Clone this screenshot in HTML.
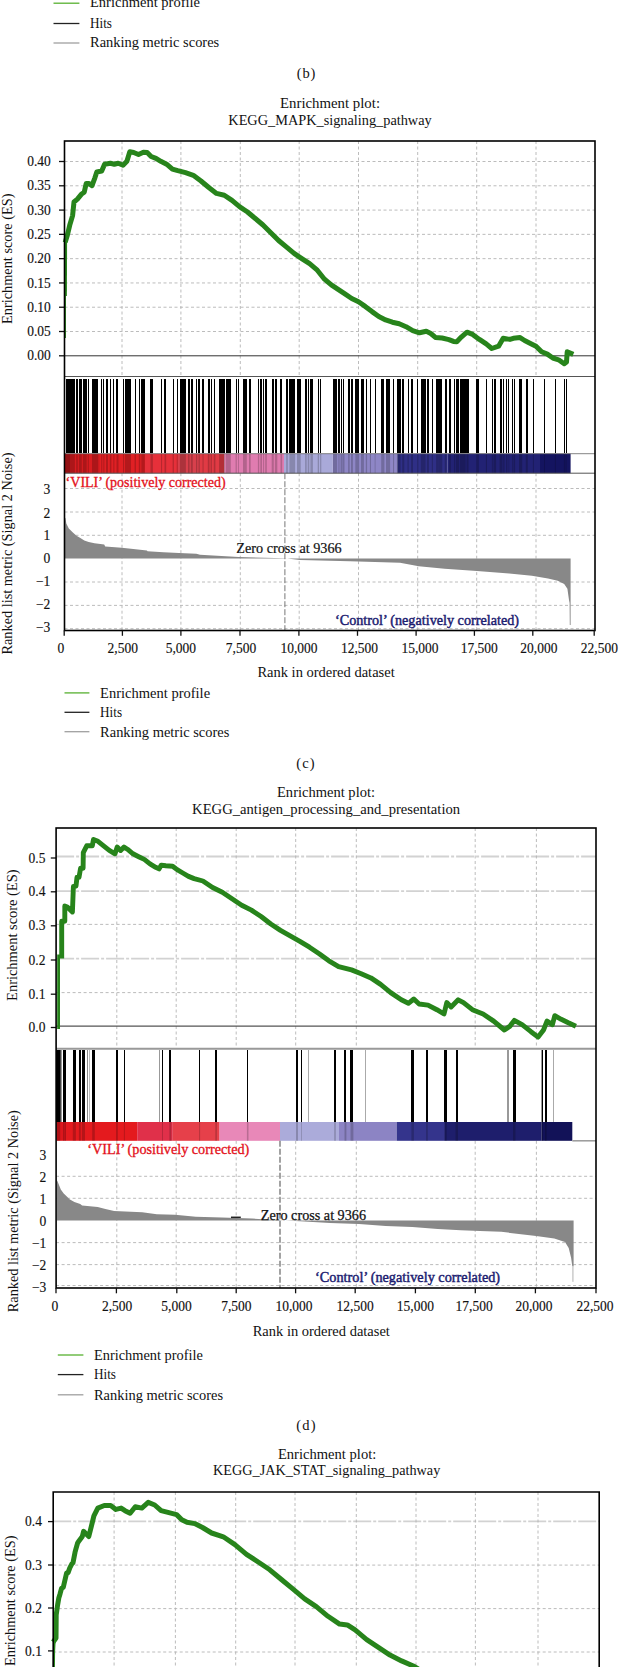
<!DOCTYPE html>
<html><head><meta charset="utf-8"><title>GSEA enrichment plots</title>
<style>
html,body{margin:0;padding:0;background:#fff;}
body{width:619px;height:1667px;overflow:hidden;}
svg{display:block;}
svg text{font-family:"Liberation Serif", serif;}
svg text.n{stroke:#111;stroke-width:0.15px;}
</style></head><body>
<svg width="619" height="1667" viewBox="0 0 619 1667">
<rect width="619" height="1667" fill="#fff"/>
<line x1="53.50" y1="3.20" x2="79.40" y2="3.20" stroke="#57b030" stroke-width="1.3"/>
<text x="90.0" y="7.2" font-size="14" text-anchor="start" fill="#111" textLength="110.0" lengthAdjust="spacingAndGlyphs">Enrichment profile</text>
<line x1="53.50" y1="23.50" x2="79.40" y2="23.50" stroke="#222" stroke-width="1.3"/>
<text x="90.0" y="27.5" font-size="14" text-anchor="start" fill="#111" textLength="22.0" lengthAdjust="spacingAndGlyphs">Hits</text>
<line x1="53.50" y1="43.00" x2="79.40" y2="43.00" stroke="#a0a0a0" stroke-width="1.3"/>
<text x="90.0" y="47.0" font-size="14" text-anchor="start" fill="#111" textLength="129.2" lengthAdjust="spacingAndGlyphs">Ranking metric scores</text>
<text x="306.5" y="78.3" font-size="14.5" text-anchor="middle" fill="#111" letter-spacing="0.8">(b)</text>
<text x="280.0" y="107.5" font-size="14" text-anchor="start" fill="#111" textLength="100.0" lengthAdjust="spacingAndGlyphs">Enrichment plot:</text>
<text x="228.3" y="125.0" font-size="14" text-anchor="start" fill="#111" textLength="203.4" lengthAdjust="spacingAndGlyphs">KEGG_MAPK_signaling_pathway</text>
<line x1="64.50" y1="331.51" x2="595.00" y2="331.51" stroke="#b4b4b4" stroke-width="0.9" stroke-dasharray="3,2.5"/>
<line x1="64.50" y1="307.23" x2="595.00" y2="307.23" stroke="#b4b4b4" stroke-width="0.9" stroke-dasharray="3,2.5"/>
<line x1="64.50" y1="282.94" x2="595.00" y2="282.94" stroke="#b4b4b4" stroke-width="0.9" stroke-dasharray="3,2.5"/>
<line x1="64.50" y1="258.65" x2="595.00" y2="258.65" stroke="#b4b4b4" stroke-width="0.9" stroke-dasharray="3,2.5"/>
<line x1="64.50" y1="234.36" x2="595.00" y2="234.36" stroke="#b4b4b4" stroke-width="0.9" stroke-dasharray="3,2.5"/>
<line x1="64.50" y1="210.08" x2="595.00" y2="210.08" stroke="#b4b4b4" stroke-width="0.9" stroke-dasharray="3,2.5"/>
<line x1="64.50" y1="185.79" x2="595.00" y2="185.79" stroke="#b4b4b4" stroke-width="0.9" stroke-dasharray="3,2.5"/>
<line x1="64.50" y1="161.50" x2="595.00" y2="161.50" stroke="#b4b4b4" stroke-width="0.9" stroke-dasharray="3,2.5"/>
<line x1="122.00" y1="141.00" x2="122.00" y2="376.50" stroke="#b4b4b4" stroke-width="0.9" stroke-dasharray="3,2.5"/>
<line x1="122.00" y1="473.20" x2="122.00" y2="630.50" stroke="#b4b4b4" stroke-width="0.9" stroke-dasharray="3,2.5"/>
<line x1="180.90" y1="141.00" x2="180.90" y2="376.50" stroke="#b4b4b4" stroke-width="0.9" stroke-dasharray="3,2.5"/>
<line x1="180.90" y1="473.20" x2="180.90" y2="630.50" stroke="#b4b4b4" stroke-width="0.9" stroke-dasharray="3,2.5"/>
<line x1="240.30" y1="141.00" x2="240.30" y2="376.50" stroke="#b4b4b4" stroke-width="0.9" stroke-dasharray="3,2.5"/>
<line x1="240.30" y1="473.20" x2="240.30" y2="630.50" stroke="#b4b4b4" stroke-width="0.9" stroke-dasharray="3,2.5"/>
<line x1="299.20" y1="141.00" x2="299.20" y2="376.50" stroke="#b4b4b4" stroke-width="0.9" stroke-dasharray="3,2.5"/>
<line x1="299.20" y1="473.20" x2="299.20" y2="630.50" stroke="#b4b4b4" stroke-width="0.9" stroke-dasharray="3,2.5"/>
<line x1="358.50" y1="141.00" x2="358.50" y2="376.50" stroke="#b4b4b4" stroke-width="0.9" stroke-dasharray="3,2.5"/>
<line x1="358.50" y1="473.20" x2="358.50" y2="630.50" stroke="#b4b4b4" stroke-width="0.9" stroke-dasharray="3,2.5"/>
<line x1="417.70" y1="141.00" x2="417.70" y2="376.50" stroke="#b4b4b4" stroke-width="0.9" stroke-dasharray="3,2.5"/>
<line x1="417.70" y1="473.20" x2="417.70" y2="630.50" stroke="#b4b4b4" stroke-width="0.9" stroke-dasharray="3,2.5"/>
<line x1="476.70" y1="141.00" x2="476.70" y2="376.50" stroke="#b4b4b4" stroke-width="0.9" stroke-dasharray="3,2.5"/>
<line x1="476.70" y1="473.20" x2="476.70" y2="630.50" stroke="#b4b4b4" stroke-width="0.9" stroke-dasharray="3,2.5"/>
<line x1="536.00" y1="141.00" x2="536.00" y2="376.50" stroke="#b4b4b4" stroke-width="0.9" stroke-dasharray="3,2.5"/>
<line x1="536.00" y1="473.20" x2="536.00" y2="630.50" stroke="#b4b4b4" stroke-width="0.9" stroke-dasharray="3,2.5"/>
<line x1="64.50" y1="488.50" x2="595.00" y2="488.50" stroke="#b4b4b4" stroke-width="0.9" stroke-dasharray="3,2.5"/>
<line x1="64.50" y1="512.00" x2="595.00" y2="512.00" stroke="#b4b4b4" stroke-width="0.9" stroke-dasharray="3,2.5"/>
<line x1="64.50" y1="535.30" x2="595.00" y2="535.30" stroke="#b4b4b4" stroke-width="0.9" stroke-dasharray="3,2.5"/>
<line x1="64.50" y1="582.00" x2="595.00" y2="582.00" stroke="#b4b4b4" stroke-width="0.9" stroke-dasharray="3,2.5"/>
<line x1="64.50" y1="605.40" x2="595.00" y2="605.40" stroke="#b4b4b4" stroke-width="0.9" stroke-dasharray="3,2.5"/>
<line x1="64.50" y1="628.70" x2="595.00" y2="628.70" stroke="#b4b4b4" stroke-width="0.9" stroke-dasharray="3,2.5"/>
<line x1="59.00" y1="355.80" x2="64.50" y2="355.80" stroke="#111" stroke-width="1.3"/>
<text class="n" x="27.2" y="360.4" font-size="14.3" text-anchor="start" fill="#111" textLength="23.6" lengthAdjust="spacingAndGlyphs">0.00</text>
<line x1="59.00" y1="331.51" x2="64.50" y2="331.51" stroke="#111" stroke-width="1.3"/>
<text class="n" x="27.2" y="336.1" font-size="14.3" text-anchor="start" fill="#111" textLength="23.6" lengthAdjust="spacingAndGlyphs">0.05</text>
<line x1="59.00" y1="307.23" x2="64.50" y2="307.23" stroke="#111" stroke-width="1.3"/>
<text class="n" x="27.2" y="311.8" font-size="14.3" text-anchor="start" fill="#111" textLength="23.6" lengthAdjust="spacingAndGlyphs">0.10</text>
<line x1="59.00" y1="282.94" x2="64.50" y2="282.94" stroke="#111" stroke-width="1.3"/>
<text class="n" x="27.2" y="287.5" font-size="14.3" text-anchor="start" fill="#111" textLength="23.6" lengthAdjust="spacingAndGlyphs">0.15</text>
<line x1="59.00" y1="258.65" x2="64.50" y2="258.65" stroke="#111" stroke-width="1.3"/>
<text class="n" x="27.2" y="263.2" font-size="14.3" text-anchor="start" fill="#111" textLength="23.6" lengthAdjust="spacingAndGlyphs">0.20</text>
<line x1="59.00" y1="234.36" x2="64.50" y2="234.36" stroke="#111" stroke-width="1.3"/>
<text class="n" x="27.2" y="239.0" font-size="14.3" text-anchor="start" fill="#111" textLength="23.6" lengthAdjust="spacingAndGlyphs">0.25</text>
<line x1="59.00" y1="210.08" x2="64.50" y2="210.08" stroke="#111" stroke-width="1.3"/>
<text class="n" x="27.2" y="214.7" font-size="14.3" text-anchor="start" fill="#111" textLength="23.6" lengthAdjust="spacingAndGlyphs">0.30</text>
<line x1="59.00" y1="185.79" x2="64.50" y2="185.79" stroke="#111" stroke-width="1.3"/>
<text class="n" x="27.2" y="190.4" font-size="14.3" text-anchor="start" fill="#111" textLength="23.6" lengthAdjust="spacingAndGlyphs">0.35</text>
<line x1="59.00" y1="161.50" x2="64.50" y2="161.50" stroke="#111" stroke-width="1.3"/>
<text class="n" x="27.2" y="166.1" font-size="14.3" text-anchor="start" fill="#111" textLength="23.6" lengthAdjust="spacingAndGlyphs">0.40</text>
<text transform="translate(12.2,258.8) rotate(-90)" x="-65.2" y="0" font-size="14" fill="#111" textLength="130.5" lengthAdjust="spacingAndGlyphs">Enrichment score (ES)</text>
<line x1="64.50" y1="355.80" x2="595.00" y2="355.80" stroke="#333" stroke-width="1"/>
<polyline points="65.2,338.0 65.2,296.0" fill="none" stroke="#27841b" stroke-width="1.5"/>
<polyline points="65.7,296.0 65.9,240.0" fill="none" stroke="#27841b" stroke-width="2.4"/>
<polyline points="65.9,240.0 67.4,235.0 69.7,225.3 72.6,215.6 74.0,202.0 77.4,199.1 81.3,194.3 84.2,192.3 86.2,183.6 89.1,183.6 92.0,185.6 94.9,177.8 96.8,172.0 101.7,171.0 104.6,164.2 110.4,163.3 114.3,164.2 118.2,163.3 123.0,165.2 126.9,161.3 129.8,151.8 133.7,152.5 138.5,154.5 143.4,152.3 147.2,152.6 151.1,156.5 156.0,158.4 160.8,161.3 166.6,164.2 172.4,169.1 177.8,170.7 185.5,172.7 193.3,175.3 201.0,181.0 208.8,187.5 216.5,193.4 224.3,195.2 232.0,200.4 239.8,206.9 247.5,212.0 255.3,218.5 263.0,225.0 270.8,232.7 278.6,240.5 286.3,246.9 294.1,253.4 301.8,258.6 309.6,263.7 317.3,270.2 324.5,279.2 331.3,284.9 338.1,289.4 344.9,293.9 351.7,298.5 358.5,301.8 365.2,306.4 372.0,311.6 378.8,316.5 385.6,319.9 392.4,322.2 399.2,323.8 406.0,326.7 412.7,330.6 419.5,332.8 426.3,331.3 430.8,333.5 435.4,337.4 442.1,338.0 448.9,339.6 453.5,341.4 456.8,341.7 461.3,337.1 467.0,332.2 472.6,334.4 479.4,339.4 486.2,343.9 491.8,348.5 498.6,346.2 503.2,338.3 509.9,339.4 513.3,338.3 520.1,337.6 524.6,340.5 531.4,343.9 536.0,346.2 541.6,351.8 547.3,354.1 552.9,358.0 558.6,359.8 564.2,363.8 566.5,362.0 567.2,351.8 571.0,353.4" fill="none" stroke="#27841b" stroke-width="5.0" stroke-linejoin="round" stroke-linecap="square"/>
<line x1="64.50" y1="376.50" x2="595.00" y2="376.50" stroke="#555" stroke-width="1"/>
<rect x="66" y="379.00" width="9" height="74.30" fill="#000" shape-rendering="crispEdges"/>
<rect x="76" y="379.00" width="2" height="74.30" fill="#000" shape-rendering="crispEdges"/>
<rect x="79" y="379.00" width="3" height="74.30" fill="#000" shape-rendering="crispEdges"/>
<rect x="83" y="379.00" width="4" height="74.30" fill="#000" shape-rendering="crispEdges"/>
<rect x="88" y="379.00" width="1" height="74.30" fill="#000" shape-rendering="crispEdges"/>
<rect x="92" y="379.00" width="6" height="74.30" fill="#000" shape-rendering="crispEdges"/>
<rect x="101" y="379.00" width="1" height="74.30" fill="#000" shape-rendering="crispEdges"/>
<rect x="103" y="379.00" width="1" height="74.30" fill="#000" shape-rendering="crispEdges"/>
<rect x="106" y="379.00" width="2" height="74.30" fill="#000" shape-rendering="crispEdges"/>
<rect x="110" y="379.00" width="1" height="74.30" fill="#000" shape-rendering="crispEdges"/>
<rect x="113" y="379.00" width="1" height="74.30" fill="#000" shape-rendering="crispEdges"/>
<rect x="116" y="379.00" width="2" height="74.30" fill="#000" shape-rendering="crispEdges"/>
<rect x="123" y="379.00" width="1" height="74.30" fill="#000" shape-rendering="crispEdges"/>
<rect x="125" y="379.00" width="6" height="74.30" fill="#000" shape-rendering="crispEdges"/>
<rect x="135" y="379.00" width="1" height="74.30" fill="#000" shape-rendering="crispEdges"/>
<rect x="139" y="379.00" width="1" height="74.30" fill="#000" shape-rendering="crispEdges"/>
<rect x="141" y="379.00" width="4" height="74.30" fill="#000" shape-rendering="crispEdges"/>
<rect x="150" y="379.00" width="3" height="74.30" fill="#000" shape-rendering="crispEdges"/>
<rect x="161" y="379.00" width="1" height="74.30" fill="#000" shape-rendering="crispEdges"/>
<rect x="164" y="379.00" width="2" height="74.30" fill="#000" shape-rendering="crispEdges"/>
<rect x="173" y="379.00" width="1" height="74.30" fill="#000" shape-rendering="crispEdges"/>
<rect x="177" y="379.00" width="1" height="74.30" fill="#000" shape-rendering="crispEdges"/>
<rect x="180" y="379.00" width="6" height="74.30" fill="#000" shape-rendering="crispEdges"/>
<rect x="188" y="379.00" width="2" height="74.30" fill="#000" shape-rendering="crispEdges"/>
<rect x="191" y="379.00" width="2" height="74.30" fill="#000" shape-rendering="crispEdges"/>
<rect x="196" y="379.00" width="1" height="74.30" fill="#000" shape-rendering="crispEdges"/>
<rect x="198" y="379.00" width="2" height="74.30" fill="#000" shape-rendering="crispEdges"/>
<rect x="202" y="379.00" width="2" height="74.30" fill="#000" shape-rendering="crispEdges"/>
<rect x="208" y="379.00" width="2" height="74.30" fill="#000" shape-rendering="crispEdges"/>
<rect x="211" y="379.00" width="1" height="74.30" fill="#000" shape-rendering="crispEdges"/>
<rect x="214" y="379.00" width="1" height="74.30" fill="#000" shape-rendering="crispEdges"/>
<rect x="219" y="379.00" width="6" height="74.30" fill="#000" shape-rendering="crispEdges"/>
<rect x="226" y="379.00" width="5" height="74.30" fill="#000" shape-rendering="crispEdges"/>
<rect x="236" y="379.00" width="1" height="74.30" fill="#000" shape-rendering="crispEdges"/>
<rect x="238" y="379.00" width="1" height="74.30" fill="#000" shape-rendering="crispEdges"/>
<rect x="243" y="379.00" width="4" height="74.30" fill="#000" shape-rendering="crispEdges"/>
<rect x="249" y="379.00" width="2" height="74.30" fill="#000" shape-rendering="crispEdges"/>
<rect x="258" y="379.00" width="1" height="74.30" fill="#000" shape-rendering="crispEdges"/>
<rect x="260" y="379.00" width="2" height="74.30" fill="#000" shape-rendering="crispEdges"/>
<rect x="263" y="379.00" width="1" height="74.30" fill="#000" shape-rendering="crispEdges"/>
<rect x="265" y="379.00" width="2" height="74.30" fill="#000" shape-rendering="crispEdges"/>
<rect x="272" y="379.00" width="2" height="74.30" fill="#000" shape-rendering="crispEdges"/>
<rect x="275" y="379.00" width="2" height="74.30" fill="#000" shape-rendering="crispEdges"/>
<rect x="280" y="379.00" width="2" height="74.30" fill="#000" shape-rendering="crispEdges"/>
<rect x="286" y="379.00" width="2" height="74.30" fill="#000" shape-rendering="crispEdges"/>
<rect x="289" y="379.00" width="6" height="74.30" fill="#000" shape-rendering="crispEdges"/>
<rect x="297" y="379.00" width="4" height="74.30" fill="#000" shape-rendering="crispEdges"/>
<rect x="305" y="379.00" width="2" height="74.30" fill="#000" shape-rendering="crispEdges"/>
<rect x="308" y="379.00" width="1" height="74.30" fill="#000" shape-rendering="crispEdges"/>
<rect x="310" y="379.00" width="3" height="74.30" fill="#000" shape-rendering="crispEdges"/>
<rect x="318" y="379.00" width="1" height="74.30" fill="#000" shape-rendering="crispEdges"/>
<rect x="320" y="379.00" width="1" height="74.30" fill="#000" shape-rendering="crispEdges"/>
<rect x="333" y="379.00" width="4" height="74.30" fill="#000" shape-rendering="crispEdges"/>
<rect x="338" y="379.00" width="2" height="74.30" fill="#000" shape-rendering="crispEdges"/>
<rect x="341" y="379.00" width="1" height="74.30" fill="#000" shape-rendering="crispEdges"/>
<rect x="343" y="379.00" width="1" height="74.30" fill="#000" shape-rendering="crispEdges"/>
<rect x="348" y="379.00" width="2" height="74.30" fill="#000" shape-rendering="crispEdges"/>
<rect x="351" y="379.00" width="2" height="74.30" fill="#000" shape-rendering="crispEdges"/>
<rect x="355" y="379.00" width="4" height="74.30" fill="#000" shape-rendering="crispEdges"/>
<rect x="361" y="379.00" width="3" height="74.30" fill="#000" shape-rendering="crispEdges"/>
<rect x="366" y="379.00" width="1" height="74.30" fill="#000" shape-rendering="crispEdges"/>
<rect x="370" y="379.00" width="1" height="74.30" fill="#000" shape-rendering="crispEdges"/>
<rect x="375" y="379.00" width="1" height="74.30" fill="#000" shape-rendering="crispEdges"/>
<rect x="381" y="379.00" width="3" height="74.30" fill="#000" shape-rendering="crispEdges"/>
<rect x="386" y="379.00" width="4" height="74.30" fill="#000" shape-rendering="crispEdges"/>
<rect x="393" y="379.00" width="1" height="74.30" fill="#000" shape-rendering="crispEdges"/>
<rect x="397" y="379.00" width="4" height="74.30" fill="#000" shape-rendering="crispEdges"/>
<rect x="402" y="379.00" width="2" height="74.30" fill="#000" shape-rendering="crispEdges"/>
<rect x="408" y="379.00" width="1" height="74.30" fill="#000" shape-rendering="crispEdges"/>
<rect x="411" y="379.00" width="2" height="74.30" fill="#000" shape-rendering="crispEdges"/>
<rect x="417" y="379.00" width="1" height="74.30" fill="#000" shape-rendering="crispEdges"/>
<rect x="421" y="379.00" width="5" height="74.30" fill="#000" shape-rendering="crispEdges"/>
<rect x="427" y="379.00" width="2" height="74.30" fill="#000" shape-rendering="crispEdges"/>
<rect x="432" y="379.00" width="1" height="74.30" fill="#000" shape-rendering="crispEdges"/>
<rect x="436" y="379.00" width="3" height="74.30" fill="#000" shape-rendering="crispEdges"/>
<rect x="439" y="379.00" width="3" height="74.30" fill="#000" shape-rendering="crispEdges"/>
<rect x="445" y="379.00" width="2" height="74.30" fill="#000" shape-rendering="crispEdges"/>
<rect x="449" y="379.00" width="2" height="74.30" fill="#000" shape-rendering="crispEdges"/>
<rect x="454" y="379.00" width="1" height="74.30" fill="#000" shape-rendering="crispEdges"/>
<rect x="456" y="379.00" width="3" height="74.30" fill="#000" shape-rendering="crispEdges"/>
<rect x="460" y="379.00" width="6" height="74.30" fill="#000" shape-rendering="crispEdges"/>
<rect x="466" y="379.00" width="3" height="74.30" fill="#000" shape-rendering="crispEdges"/>
<rect x="476" y="379.00" width="3" height="74.30" fill="#000" shape-rendering="crispEdges"/>
<rect x="486" y="379.00" width="1" height="74.30" fill="#000" shape-rendering="crispEdges"/>
<rect x="492" y="379.00" width="1" height="74.30" fill="#000" shape-rendering="crispEdges"/>
<rect x="494" y="379.00" width="2" height="74.30" fill="#000" shape-rendering="crispEdges"/>
<rect x="500" y="379.00" width="2" height="74.30" fill="#000" shape-rendering="crispEdges"/>
<rect x="503" y="379.00" width="1" height="74.30" fill="#000" shape-rendering="crispEdges"/>
<rect x="506" y="379.00" width="1" height="74.30" fill="#000" shape-rendering="crispEdges"/>
<rect x="508" y="379.00" width="1" height="74.30" fill="#000" shape-rendering="crispEdges"/>
<rect x="512" y="379.00" width="1" height="74.30" fill="#000" shape-rendering="crispEdges"/>
<rect x="514" y="379.00" width="1" height="74.30" fill="#000" shape-rendering="crispEdges"/>
<rect x="519" y="379.00" width="3" height="74.30" fill="#000" shape-rendering="crispEdges"/>
<rect x="526" y="379.00" width="2" height="74.30" fill="#000" shape-rendering="crispEdges"/>
<rect x="533" y="379.00" width="1" height="74.30" fill="#000" shape-rendering="crispEdges"/>
<rect x="544" y="379.00" width="1" height="74.30" fill="#000" shape-rendering="crispEdges"/>
<rect x="555" y="379.00" width="1" height="74.30" fill="#000" shape-rendering="crispEdges"/>
<rect x="564" y="379.00" width="1" height="74.30" fill="#000" shape-rendering="crispEdges"/>
<rect x="566" y="379.00" width="1" height="74.30" fill="#000" shape-rendering="crispEdges"/>
<rect x="64.50" y="453.70" width="5.50" height="19.50" fill="#b81418"/>
<rect x="70.00" y="453.70" width="30.00" height="19.50" fill="#d81c20"/>
<rect x="100.00" y="453.70" width="45.00" height="19.50" fill="#e02024"/>
<rect x="145.00" y="453.70" width="33.00" height="19.50" fill="#e6303a"/>
<rect x="178.00" y="453.70" width="22.00" height="19.50" fill="#d8404c"/>
<rect x="200.00" y="453.70" width="24.40" height="19.50" fill="#e03a44"/>
<rect x="224.40" y="453.70" width="59.60" height="19.50" fill="#e07cb0"/>
<rect x="284.00" y="453.70" width="48.70" height="19.50" fill="#a9a9d9"/>
<rect x="332.70" y="453.70" width="64.70" height="19.50" fill="#8e86c6"/>
<rect x="397.40" y="453.70" width="50.20" height="19.50" fill="#2f2f86"/>
<rect x="447.60" y="453.70" width="92.40" height="19.50" fill="#222274"/>
<rect x="540.00" y="453.70" width="30.60" height="19.50" fill="#141460"/>
<rect x="65.50" y="453.70" width="9.40" height="19.50" fill="#000" fill-opacity="0.2"/>
<rect x="76.20" y="453.70" width="1.60" height="19.50" fill="#000" fill-opacity="0.2"/>
<rect x="78.90" y="453.70" width="2.90" height="19.50" fill="#000" fill-opacity="0.2"/>
<rect x="82.90" y="453.70" width="3.80" height="19.50" fill="#000" fill-opacity="0.2"/>
<rect x="87.80" y="453.70" width="1.00" height="19.50" fill="#000" fill-opacity="0.2"/>
<rect x="92.00" y="453.70" width="6.30" height="19.50" fill="#000" fill-opacity="0.2"/>
<rect x="101.20" y="453.70" width="1.10" height="19.50" fill="#000" fill-opacity="0.2"/>
<rect x="103.30" y="453.70" width="1.10" height="19.50" fill="#000" fill-opacity="0.2"/>
<rect x="106.00" y="453.70" width="2.00" height="19.50" fill="#000" fill-opacity="0.2"/>
<rect x="109.80" y="453.70" width="1.60" height="19.50" fill="#000" fill-opacity="0.2"/>
<rect x="113.30" y="453.70" width="1.10" height="19.50" fill="#000" fill-opacity="0.2"/>
<rect x="116.50" y="453.70" width="2.00" height="19.50" fill="#000" fill-opacity="0.2"/>
<rect x="123.00" y="453.70" width="1.10" height="19.50" fill="#000" fill-opacity="0.2"/>
<rect x="125.00" y="453.70" width="6.00" height="19.50" fill="#000" fill-opacity="0.2"/>
<rect x="134.60" y="453.70" width="1.30" height="19.50" fill="#000" fill-opacity="0.2"/>
<rect x="138.80" y="453.70" width="1.50" height="19.50" fill="#000" fill-opacity="0.2"/>
<rect x="141.30" y="453.70" width="3.50" height="19.50" fill="#000" fill-opacity="0.2"/>
<rect x="150.50" y="453.70" width="2.40" height="19.50" fill="#000" fill-opacity="0.2"/>
<rect x="161.00" y="453.70" width="1.10" height="19.50" fill="#000" fill-opacity="0.2"/>
<rect x="164.50" y="453.70" width="1.70" height="19.50" fill="#000" fill-opacity="0.2"/>
<rect x="172.60" y="453.70" width="1.30" height="19.50" fill="#000" fill-opacity="0.2"/>
<rect x="176.70" y="453.70" width="1.10" height="19.50" fill="#000" fill-opacity="0.2"/>
<rect x="179.90" y="453.70" width="6.00" height="19.50" fill="#000" fill-opacity="0.2"/>
<rect x="188.00" y="453.70" width="1.60" height="19.50" fill="#000" fill-opacity="0.2"/>
<rect x="190.90" y="453.70" width="1.90" height="19.50" fill="#000" fill-opacity="0.2"/>
<rect x="196.00" y="453.70" width="1.20" height="19.50" fill="#000" fill-opacity="0.2"/>
<rect x="198.50" y="453.70" width="1.30" height="19.50" fill="#000" fill-opacity="0.2"/>
<rect x="202.50" y="453.70" width="1.10" height="19.50" fill="#000" fill-opacity="0.2"/>
<rect x="207.80" y="453.70" width="1.70" height="19.50" fill="#000" fill-opacity="0.2"/>
<rect x="210.60" y="453.70" width="1.30" height="19.50" fill="#000" fill-opacity="0.2"/>
<rect x="213.80" y="453.70" width="1.60" height="19.50" fill="#000" fill-opacity="0.2"/>
<rect x="219.10" y="453.70" width="6.00" height="19.50" fill="#000" fill-opacity="0.2"/>
<rect x="225.90" y="453.70" width="4.90" height="19.50" fill="#000" fill-opacity="0.2"/>
<rect x="235.60" y="453.70" width="1.20" height="19.50" fill="#000" fill-opacity="0.2"/>
<rect x="238.00" y="453.70" width="0.90" height="19.50" fill="#000" fill-opacity="0.2"/>
<rect x="243.00" y="453.70" width="3.80" height="19.50" fill="#000" fill-opacity="0.2"/>
<rect x="249.00" y="453.70" width="1.70" height="19.50" fill="#000" fill-opacity="0.2"/>
<rect x="257.90" y="453.70" width="1.30" height="19.50" fill="#000" fill-opacity="0.2"/>
<rect x="260.30" y="453.70" width="1.70" height="19.50" fill="#000" fill-opacity="0.2"/>
<rect x="263.10" y="453.70" width="1.00" height="19.50" fill="#000" fill-opacity="0.2"/>
<rect x="265.20" y="453.70" width="1.60" height="19.50" fill="#000" fill-opacity="0.2"/>
<rect x="271.70" y="453.70" width="2.10" height="19.50" fill="#000" fill-opacity="0.2"/>
<rect x="274.90" y="453.70" width="2.40" height="19.50" fill="#000" fill-opacity="0.2"/>
<rect x="280.50" y="453.70" width="1.70" height="19.50" fill="#000" fill-opacity="0.2"/>
<rect x="286.20" y="453.70" width="1.60" height="19.50" fill="#000" fill-opacity="0.2"/>
<rect x="289.40" y="453.70" width="5.70" height="19.50" fill="#000" fill-opacity="0.2"/>
<rect x="297.00" y="453.70" width="3.70" height="19.50" fill="#000" fill-opacity="0.2"/>
<rect x="305.10" y="453.70" width="1.60" height="19.50" fill="#000" fill-opacity="0.2"/>
<rect x="307.70" y="453.70" width="1.60" height="19.50" fill="#000" fill-opacity="0.2"/>
<rect x="310.40" y="453.70" width="2.50" height="19.50" fill="#000" fill-opacity="0.2"/>
<rect x="317.70" y="453.70" width="1.30" height="19.50" fill="#000" fill-opacity="0.2"/>
<rect x="320.10" y="453.70" width="1.20" height="19.50" fill="#000" fill-opacity="0.2"/>
<rect x="333.00" y="453.70" width="4.10" height="19.50" fill="#000" fill-opacity="0.2"/>
<rect x="338.40" y="453.70" width="1.10" height="19.50" fill="#000" fill-opacity="0.2"/>
<rect x="340.60" y="453.70" width="1.80" height="19.50" fill="#000" fill-opacity="0.2"/>
<rect x="342.70" y="453.70" width="1.80" height="19.50" fill="#000" fill-opacity="0.2"/>
<rect x="348.10" y="453.70" width="1.60" height="19.50" fill="#000" fill-opacity="0.2"/>
<rect x="351.00" y="453.70" width="1.90" height="19.50" fill="#000" fill-opacity="0.2"/>
<rect x="355.30" y="453.70" width="3.80" height="19.50" fill="#000" fill-opacity="0.2"/>
<rect x="361.00" y="453.70" width="2.90" height="19.50" fill="#000" fill-opacity="0.2"/>
<rect x="365.80" y="453.70" width="1.30" height="19.50" fill="#000" fill-opacity="0.2"/>
<rect x="369.90" y="453.70" width="1.10" height="19.50" fill="#000" fill-opacity="0.2"/>
<rect x="374.70" y="453.70" width="0.80" height="19.50" fill="#000" fill-opacity="0.2"/>
<rect x="381.20" y="453.70" width="3.20" height="19.50" fill="#000" fill-opacity="0.2"/>
<rect x="386.00" y="453.70" width="4.10" height="19.50" fill="#000" fill-opacity="0.2"/>
<rect x="393.00" y="453.70" width="1.10" height="19.50" fill="#000" fill-opacity="0.2"/>
<rect x="396.90" y="453.70" width="3.70" height="19.50" fill="#000" fill-opacity="0.2"/>
<rect x="402.20" y="453.70" width="2.10" height="19.50" fill="#000" fill-opacity="0.2"/>
<rect x="407.50" y="453.70" width="1.20" height="19.50" fill="#000" fill-opacity="0.2"/>
<rect x="411.10" y="453.70" width="1.90" height="19.50" fill="#000" fill-opacity="0.2"/>
<rect x="417.20" y="453.70" width="1.20" height="19.50" fill="#000" fill-opacity="0.2"/>
<rect x="420.80" y="453.70" width="4.80" height="19.50" fill="#000" fill-opacity="0.2"/>
<rect x="426.90" y="453.70" width="2.00" height="19.50" fill="#000" fill-opacity="0.2"/>
<rect x="431.80" y="453.70" width="1.10" height="19.50" fill="#000" fill-opacity="0.2"/>
<rect x="436.10" y="453.70" width="2.80" height="19.50" fill="#000" fill-opacity="0.2"/>
<rect x="439.00" y="453.70" width="3.30" height="19.50" fill="#000" fill-opacity="0.2"/>
<rect x="444.70" y="453.70" width="1.90" height="19.50" fill="#000" fill-opacity="0.2"/>
<rect x="449.20" y="453.70" width="1.60" height="19.50" fill="#000" fill-opacity="0.2"/>
<rect x="454.10" y="453.70" width="1.10" height="19.50" fill="#000" fill-opacity="0.2"/>
<rect x="456.00" y="453.70" width="3.20" height="19.50" fill="#000" fill-opacity="0.2"/>
<rect x="460.00" y="453.70" width="5.70" height="19.50" fill="#000" fill-opacity="0.2"/>
<rect x="466.50" y="453.70" width="2.10" height="19.50" fill="#000" fill-opacity="0.2"/>
<rect x="476.20" y="453.70" width="2.70" height="19.50" fill="#000" fill-opacity="0.2"/>
<rect x="485.90" y="453.70" width="1.10" height="19.50" fill="#000" fill-opacity="0.2"/>
<rect x="491.90" y="453.70" width="0.90" height="19.50" fill="#000" fill-opacity="0.2"/>
<rect x="493.50" y="453.70" width="2.60" height="19.50" fill="#000" fill-opacity="0.2"/>
<rect x="499.60" y="453.70" width="2.90" height="19.50" fill="#000" fill-opacity="0.2"/>
<rect x="503.20" y="453.70" width="1.30" height="19.50" fill="#000" fill-opacity="0.2"/>
<rect x="506.10" y="453.70" width="1.30" height="19.50" fill="#000" fill-opacity="0.2"/>
<rect x="508.50" y="453.70" width="0.80" height="19.50" fill="#000" fill-opacity="0.2"/>
<rect x="512.20" y="453.70" width="0.80" height="19.50" fill="#000" fill-opacity="0.2"/>
<rect x="513.50" y="453.70" width="1.60" height="19.50" fill="#000" fill-opacity="0.2"/>
<rect x="519.00" y="453.70" width="3.20" height="19.50" fill="#000" fill-opacity="0.2"/>
<rect x="525.80" y="453.70" width="2.00" height="19.50" fill="#000" fill-opacity="0.2"/>
<rect x="532.90" y="453.70" width="1.00" height="19.50" fill="#000" fill-opacity="0.2"/>
<rect x="544.20" y="453.70" width="0.80" height="19.50" fill="#000" fill-opacity="0.2"/>
<rect x="554.90" y="453.70" width="0.80" height="19.50" fill="#000" fill-opacity="0.2"/>
<rect x="563.90" y="453.70" width="0.80" height="19.50" fill="#000" fill-opacity="0.2"/>
<rect x="565.60" y="453.70" width="0.90" height="19.50" fill="#000" fill-opacity="0.2"/>
<line x1="64.50" y1="453.70" x2="595.00" y2="453.70" stroke="#666" stroke-width="0.8"/>
<line x1="64.50" y1="473.20" x2="595.00" y2="473.20" stroke="#555" stroke-width="1"/>
<polygon points="64.8,558.4 64.8,517.6 65.5,518.3 66.3,523.6 68.8,528.4 72.6,532.3 76.5,535.7 80.4,538.1 84.3,540.4 88.7,542.0 94.5,543.2 104.2,544.5 105.2,546.5 121.7,547.8 133.3,549.0 146.9,550.4 147.5,551.2 163.4,552.3 178.9,552.9 196.3,553.7 200.0,554.7 238.8,557.0 284.9,558.3 300.0,559.9 350.0,561.2 400.0,562.8 418.8,566.2 444.6,568.7 476.9,571.0 509.2,573.6 531.9,575.8 548.0,578.4 557.7,580.7 564.2,583.9 567.4,588.8 569.0,600.0 569.6,603.0 569.8,625.0 570.6,625.0 570.6,558.4" fill="#888888"/>
<line x1="284.90" y1="473.20" x2="284.90" y2="630.50" stroke="#666" stroke-width="0.9" stroke-dasharray="6,2"/>
<text class="n" x="43.5" y="494.1" font-size="14.3" text-anchor="start" fill="#111" textLength="6.8" lengthAdjust="spacingAndGlyphs">3</text>
<text class="n" x="43.5" y="517.6" font-size="14.3" text-anchor="start" fill="#111" textLength="6.8" lengthAdjust="spacingAndGlyphs">2</text>
<text class="n" x="43.5" y="540.3" font-size="14.3" text-anchor="start" fill="#111" textLength="6.8" lengthAdjust="spacingAndGlyphs">1</text>
<text class="n" x="43.5" y="562.9" font-size="14.3" text-anchor="start" fill="#111" textLength="6.8" lengthAdjust="spacingAndGlyphs">0</text>
<text class="n" x="35.8" y="586.1" font-size="14.3" text-anchor="start" fill="#111" textLength="14.4" lengthAdjust="spacingAndGlyphs">−1</text>
<text class="n" x="35.8" y="609.4" font-size="14.3" text-anchor="start" fill="#111" textLength="14.4" lengthAdjust="spacingAndGlyphs">−2</text>
<text class="n" x="35.8" y="632.2" font-size="14.3" text-anchor="start" fill="#111" textLength="14.4" lengthAdjust="spacingAndGlyphs">−3</text>
<text transform="translate(12.4,553.5) rotate(-90)" x="-101.0" y="0" font-size="14" fill="#111" textLength="202.0" lengthAdjust="spacingAndGlyphs">Ranked list metric (Signal 2 Noise)</text>
<text x="65.6" y="486.5" font-size="14" text-anchor="start" fill="#e4101a" textLength="160.0" lengthAdjust="spacingAndGlyphs" stroke="#e4101a" stroke-width="0.3">‘VILI’ (positively corrected)</text>
<text x="236.3" y="553.1" font-size="14" text-anchor="start" fill="#111" textLength="105.4" lengthAdjust="spacingAndGlyphs" stroke="#111" stroke-width="0.2">Zero cross at 9366</text>
<text x="335.0" y="625.3" font-size="14" text-anchor="start" fill="#1c1c70" textLength="184.0" lengthAdjust="spacingAndGlyphs" stroke="#1c1c70" stroke-width="0.45">‘Control’ (negatively correlated)</text>
<rect x="64.5" y="141" width="530.5" height="489.5" fill="none" stroke="#000" stroke-width="1.6"/>
<line x1="64.20" y1="630.50" x2="64.20" y2="635.80" stroke="#111" stroke-width="1.3"/>
<text class="n" x="57.5" y="653.2" font-size="14.3" text-anchor="start" fill="#111" textLength="6.8" lengthAdjust="spacingAndGlyphs">0</text>
<line x1="122.40" y1="630.50" x2="122.40" y2="635.80" stroke="#111" stroke-width="1.3"/>
<text class="n" x="107.5" y="653.2" font-size="14.3" text-anchor="start" fill="#111" textLength="30.4" lengthAdjust="spacingAndGlyphs">2,500</text>
<line x1="180.90" y1="630.50" x2="180.90" y2="635.80" stroke="#111" stroke-width="1.3"/>
<text class="n" x="165.7" y="653.2" font-size="14.3" text-anchor="start" fill="#111" textLength="30.4" lengthAdjust="spacingAndGlyphs">5,000</text>
<line x1="240.00" y1="630.50" x2="240.00" y2="635.80" stroke="#111" stroke-width="1.3"/>
<text class="n" x="225.8" y="653.2" font-size="14.3" text-anchor="start" fill="#111" textLength="30.4" lengthAdjust="spacingAndGlyphs">7,500</text>
<line x1="298.90" y1="630.50" x2="298.90" y2="635.80" stroke="#111" stroke-width="1.3"/>
<text class="n" x="280.4" y="653.2" font-size="14.3" text-anchor="start" fill="#111" textLength="37.1" lengthAdjust="spacingAndGlyphs">10,000</text>
<line x1="357.50" y1="630.50" x2="357.50" y2="635.80" stroke="#111" stroke-width="1.3"/>
<text class="n" x="340.9" y="653.2" font-size="14.3" text-anchor="start" fill="#111" textLength="37.1" lengthAdjust="spacingAndGlyphs">12,500</text>
<line x1="416.10" y1="630.50" x2="416.10" y2="635.80" stroke="#111" stroke-width="1.3"/>
<text class="n" x="401.4" y="653.2" font-size="14.3" text-anchor="start" fill="#111" textLength="37.1" lengthAdjust="spacingAndGlyphs">15,000</text>
<line x1="474.40" y1="630.50" x2="474.40" y2="635.80" stroke="#111" stroke-width="1.3"/>
<text class="n" x="460.7" y="653.2" font-size="14.3" text-anchor="start" fill="#111" textLength="37.1" lengthAdjust="spacingAndGlyphs">17,500</text>
<line x1="532.80" y1="630.50" x2="532.80" y2="635.80" stroke="#111" stroke-width="1.3"/>
<text class="n" x="520.3" y="653.2" font-size="14.3" text-anchor="start" fill="#111" textLength="37.1" lengthAdjust="spacingAndGlyphs">20,000</text>
<line x1="594.20" y1="630.50" x2="594.20" y2="635.80" stroke="#111" stroke-width="1.3"/>
<text class="n" x="580.8" y="653.2" font-size="14.3" text-anchor="start" fill="#111" textLength="37.1" lengthAdjust="spacingAndGlyphs">22,500</text>
<text x="257.4" y="677.4" font-size="14" text-anchor="start" fill="#111" textLength="137.3" lengthAdjust="spacingAndGlyphs">Rank in ordered dataset</text>
<line x1="64.50" y1="692.90" x2="89.40" y2="692.90" stroke="#57b030" stroke-width="1.3"/>
<text x="100.1" y="697.7" font-size="14" text-anchor="start" fill="#111" textLength="110.0" lengthAdjust="spacingAndGlyphs">Enrichment profile</text>
<line x1="64.50" y1="712.30" x2="89.40" y2="712.30" stroke="#222" stroke-width="1.3"/>
<text x="100.1" y="717.1" font-size="14" text-anchor="start" fill="#111" textLength="22.0" lengthAdjust="spacingAndGlyphs">Hits</text>
<line x1="64.50" y1="731.70" x2="89.40" y2="731.70" stroke="#a0a0a0" stroke-width="1.3"/>
<text x="100.1" y="736.5" font-size="14" text-anchor="start" fill="#111" textLength="129.2" lengthAdjust="spacingAndGlyphs">Ranking metric scores</text>
<text x="306.0" y="767.6" font-size="14.5" text-anchor="middle" fill="#111" letter-spacing="1.2">(c)</text>
<text x="277.0" y="797.4" font-size="14" text-anchor="start" fill="#111" textLength="98.0" lengthAdjust="spacingAndGlyphs">Enrichment plot:</text>
<text x="192.1" y="813.8" font-size="14" text-anchor="start" fill="#111" textLength="268.0" lengthAdjust="spacingAndGlyphs">KEGG_antigen_processing_and_presentation</text>
<line x1="56.10" y1="856.50" x2="596.00" y2="856.50" stroke="#d2d2d2" stroke-width="1.8" stroke-dasharray="18,2,3,2"/>
<line x1="56.10" y1="891.20" x2="596.00" y2="891.20" stroke="#d2d2d2" stroke-width="1.8" stroke-dasharray="18,2,3,2"/>
<line x1="56.10" y1="958.70" x2="596.00" y2="958.70" stroke="#d2d2d2" stroke-width="1.8" stroke-dasharray="18,2,3,2"/>
<line x1="56.10" y1="924.40" x2="596.00" y2="924.40" stroke="#b4b4b4" stroke-width="0.9" stroke-dasharray="3,2.5"/>
<line x1="56.10" y1="992.60" x2="596.00" y2="992.60" stroke="#b4b4b4" stroke-width="0.9" stroke-dasharray="3,2.5"/>
<line x1="116.80" y1="828.00" x2="116.80" y2="1048.80" stroke="#b4b4b4" stroke-width="0.9" stroke-dasharray="3,2.5"/>
<line x1="116.80" y1="1140.80" x2="116.80" y2="1288.00" stroke="#b4b4b4" stroke-width="0.9" stroke-dasharray="3,2.5"/>
<line x1="176.20" y1="828.00" x2="176.20" y2="1048.80" stroke="#b4b4b4" stroke-width="0.9" stroke-dasharray="3,2.5"/>
<line x1="176.20" y1="1140.80" x2="176.20" y2="1288.00" stroke="#b4b4b4" stroke-width="0.9" stroke-dasharray="3,2.5"/>
<line x1="236.20" y1="828.00" x2="236.20" y2="1048.80" stroke="#b4b4b4" stroke-width="0.9" stroke-dasharray="3,2.5"/>
<line x1="236.20" y1="1140.80" x2="236.20" y2="1288.00" stroke="#b4b4b4" stroke-width="0.9" stroke-dasharray="3,2.5"/>
<line x1="295.70" y1="828.00" x2="295.70" y2="1048.80" stroke="#b4b4b4" stroke-width="0.9" stroke-dasharray="3,2.5"/>
<line x1="295.70" y1="1140.80" x2="295.70" y2="1288.00" stroke="#b4b4b4" stroke-width="0.9" stroke-dasharray="3,2.5"/>
<line x1="356.30" y1="828.00" x2="356.30" y2="1048.80" stroke="#b4b4b4" stroke-width="0.9" stroke-dasharray="3,2.5"/>
<line x1="356.30" y1="1140.80" x2="356.30" y2="1288.00" stroke="#b4b4b4" stroke-width="0.9" stroke-dasharray="3,2.5"/>
<line x1="475.20" y1="828.00" x2="475.20" y2="1048.80" stroke="#b4b4b4" stroke-width="0.9" stroke-dasharray="3,2.5"/>
<line x1="475.20" y1="1140.80" x2="475.20" y2="1288.00" stroke="#b4b4b4" stroke-width="0.9" stroke-dasharray="3,2.5"/>
<line x1="536.40" y1="828.00" x2="536.40" y2="1048.80" stroke="#b4b4b4" stroke-width="0.9" stroke-dasharray="3,2.5"/>
<line x1="536.40" y1="1140.80" x2="536.40" y2="1288.00" stroke="#b4b4b4" stroke-width="0.9" stroke-dasharray="3,2.5"/>
<line x1="56.10" y1="1176.30" x2="596.00" y2="1176.30" stroke="#b4b4b4" stroke-width="0.9" stroke-dasharray="3,2.5"/>
<line x1="56.10" y1="1198.30" x2="596.00" y2="1198.30" stroke="#b4b4b4" stroke-width="0.9" stroke-dasharray="3,2.5"/>
<line x1="56.10" y1="1242.60" x2="596.00" y2="1242.60" stroke="#b4b4b4" stroke-width="0.9" stroke-dasharray="3,2.5"/>
<line x1="56.10" y1="1264.60" x2="596.00" y2="1264.60" stroke="#b4b4b4" stroke-width="0.9" stroke-dasharray="3,2.5"/>
<line x1="56.10" y1="1285.50" x2="596.00" y2="1285.50" stroke="#b4b4b4" stroke-width="0.9" stroke-dasharray="3,2.5"/>
<line x1="50.80" y1="858.00" x2="56.10" y2="858.00" stroke="#111" stroke-width="1.3"/>
<text class="n" x="28.6" y="862.6" font-size="14.3" text-anchor="start" fill="#111" textLength="16.9" lengthAdjust="spacingAndGlyphs">0.5</text>
<line x1="50.80" y1="891.80" x2="56.10" y2="891.80" stroke="#111" stroke-width="1.3"/>
<text class="n" x="28.6" y="896.4" font-size="14.3" text-anchor="start" fill="#111" textLength="16.9" lengthAdjust="spacingAndGlyphs">0.4</text>
<line x1="50.80" y1="925.80" x2="56.10" y2="925.80" stroke="#111" stroke-width="1.3"/>
<text class="n" x="28.6" y="930.4" font-size="14.3" text-anchor="start" fill="#111" textLength="16.9" lengthAdjust="spacingAndGlyphs">0.3</text>
<line x1="50.80" y1="960.00" x2="56.10" y2="960.00" stroke="#111" stroke-width="1.3"/>
<text class="n" x="28.6" y="964.6" font-size="14.3" text-anchor="start" fill="#111" textLength="16.9" lengthAdjust="spacingAndGlyphs">0.2</text>
<line x1="50.80" y1="994.20" x2="56.10" y2="994.20" stroke="#111" stroke-width="1.3"/>
<text class="n" x="28.6" y="998.8" font-size="14.3" text-anchor="start" fill="#111" textLength="16.9" lengthAdjust="spacingAndGlyphs">0.1</text>
<line x1="50.80" y1="1027.50" x2="56.10" y2="1027.50" stroke="#111" stroke-width="1.3"/>
<text class="n" x="28.6" y="1032.1" font-size="14.3" text-anchor="start" fill="#111" textLength="16.9" lengthAdjust="spacingAndGlyphs">0.0</text>
<text transform="translate(16.8,935.2) rotate(-90)" x="-65.7" y="0" font-size="14" fill="#111" textLength="131.4" lengthAdjust="spacingAndGlyphs">Enrichment score (ES)</text>
<line x1="56.10" y1="1026.10" x2="596.00" y2="1026.10" stroke="#555" stroke-width="1.4"/>
<polyline points="58.6,1029.0 58.6,956.0 61.7,956.0" fill="none" stroke="#27841b" stroke-width="2.8" stroke-linejoin="miter"/>
<polyline points="61.7,956.0 61.7,921.2 64.8,921.2 64.8,906.0 67.3,907.0 72.4,912.0 73.4,886.5 76.0,886.0 77.0,877.3 79.0,877.3 80.6,868.2 83.1,868.2 83.3,852.6 86.7,845.8 92.3,845.8 93.5,839.5 98.0,841.3 103.6,845.8 109.3,850.4 115.0,853.8 117.2,847.0 120.6,850.4 124.0,847.0 127.4,849.2 133.0,853.8 138.7,856.7 144.3,859.4 150.0,863.9 155.7,867.3 159.0,868.9 161.3,865.1 165.8,865.7 172.6,866.2 177.1,869.6 182.8,873.0 188.5,876.4 194.1,878.6 202.9,881.0 212.6,887.5 222.3,892.3 232.0,898.8 241.7,905.2 251.4,910.1 261.1,916.5 270.8,924.0 280.5,930.4 290.2,935.9 299.9,941.4 309.5,947.2 319.2,953.7 328.9,960.8 338.6,966.6 351.5,969.9 361.2,973.7 370.9,977.9 380.6,984.4 390.7,992.6 401.3,999.8 408.4,1003.3 413.8,999.0 419.1,1004.0 428.0,1005.1 436.9,1009.7 444.0,1014.0 446.8,1002.6 451.1,1006.9 458.2,999.8 463.5,1002.6 472.4,1009.7 483.1,1014.0 493.7,1021.1 504.4,1030.0 509.7,1026.4 514.3,1020.4 522.1,1024.6 531.0,1031.7 538.1,1037.1 543.5,1030.0 547.0,1021.1 552.4,1024.6 554.8,1015.7 561.2,1019.3 568.3,1022.8 573.7,1025.3" fill="none" stroke="#27841b" stroke-width="4.9" stroke-linejoin="round" stroke-linecap="square"/>
<line x1="56.10" y1="1048.80" x2="596.00" y2="1048.80" stroke="#999" stroke-width="2"/>
<rect x="56" y="1050.20" width="4" height="71.80" fill="#000" shape-rendering="crispEdges"/>
<rect x="63" y="1050.20" width="1" height="71.80" fill="#000" shape-rendering="crispEdges"/>
<rect x="64" y="1050.20" width="2" height="71.80" fill="#000" shape-rendering="crispEdges"/>
<rect x="73" y="1050.20" width="3" height="71.80" fill="#000" shape-rendering="crispEdges"/>
<rect x="79" y="1050.20" width="2" height="71.80" fill="#000" shape-rendering="crispEdges"/>
<rect x="82" y="1050.20" width="3" height="71.80" fill="#000" shape-rendering="crispEdges"/>
<rect x="92" y="1050.20" width="3" height="71.80" fill="#000" shape-rendering="crispEdges"/>
<rect x="116" y="1050.20" width="2" height="71.80" fill="#000" shape-rendering="crispEdges"/>
<rect x="124" y="1050.20" width="1" height="71.80" fill="#000" shape-rendering="crispEdges"/>
<rect x="162" y="1050.20" width="1" height="71.80" fill="#000" shape-rendering="crispEdges"/>
<rect x="169" y="1050.20" width="2" height="71.80" fill="#000" shape-rendering="crispEdges"/>
<rect x="199" y="1050.20" width="1" height="71.80" fill="#000" shape-rendering="crispEdges"/>
<rect x="215" y="1050.20" width="2" height="71.80" fill="#000" shape-rendering="crispEdges"/>
<rect x="247" y="1050.20" width="1" height="71.80" fill="#000" shape-rendering="crispEdges"/>
<rect x="296" y="1050.20" width="2" height="71.80" fill="#000" shape-rendering="crispEdges"/>
<rect x="301" y="1050.20" width="1" height="71.80" fill="#000" shape-rendering="crispEdges"/>
<rect x="334" y="1050.20" width="2" height="71.80" fill="#000" shape-rendering="crispEdges"/>
<rect x="344" y="1050.20" width="2" height="71.80" fill="#000" shape-rendering="crispEdges"/>
<rect x="350" y="1050.20" width="3" height="71.80" fill="#000" shape-rendering="crispEdges"/>
<rect x="411" y="1050.20" width="3" height="71.80" fill="#000" shape-rendering="crispEdges"/>
<rect x="426" y="1050.20" width="2" height="71.80" fill="#000" shape-rendering="crispEdges"/>
<rect x="444" y="1050.20" width="3" height="71.80" fill="#000" shape-rendering="crispEdges"/>
<rect x="456" y="1050.20" width="2" height="71.80" fill="#000" shape-rendering="crispEdges"/>
<rect x="513" y="1050.20" width="3" height="71.80" fill="#000" shape-rendering="crispEdges"/>
<rect x="542" y="1050.20" width="1" height="71.80" fill="#000" shape-rendering="crispEdges"/>
<rect x="545" y="1050.20" width="2" height="71.80" fill="#000" shape-rendering="crispEdges"/>
<rect x="60" y="1050.20" width="1" height="71.80" fill="#444" shape-rendering="crispEdges"/>
<rect x="61" y="1050.20" width="1" height="71.80" fill="#999" shape-rendering="crispEdges"/>
<rect x="87" y="1050.20" width="1" height="71.80" fill="#888" shape-rendering="crispEdges"/>
<rect x="89" y="1050.20" width="1" height="71.80" fill="#bbb" shape-rendering="crispEdges"/>
<rect x="159" y="1050.20" width="1" height="71.80" fill="#999" shape-rendering="crispEdges"/>
<rect x="308" y="1050.20" width="1" height="71.80" fill="#aaa" shape-rendering="crispEdges"/>
<rect x="365" y="1050.20" width="1" height="71.80" fill="#aaa" shape-rendering="crispEdges"/>
<rect x="507" y="1050.20" width="2" height="71.80" fill="#999" shape-rendering="crispEdges"/>
<rect x="541" y="1050.20" width="1" height="71.80" fill="#999" shape-rendering="crispEdges"/>
<rect x="553" y="1050.20" width="1" height="71.80" fill="#aaa" shape-rendering="crispEdges"/>
<rect x="56.50" y="1122.00" width="9.50" height="18.80" fill="#dc161c"/>
<rect x="66.00" y="1122.00" width="71.20" height="18.80" fill="#e41a1e"/>
<rect x="137.20" y="1122.00" width="35.60" height="18.80" fill="#e0304a"/>
<rect x="172.80" y="1122.00" width="46.80" height="18.80" fill="#e6404a"/>
<rect x="219.60" y="1122.00" width="60.40" height="18.80" fill="#e888b8"/>
<rect x="280.00" y="1122.00" width="59.00" height="18.80" fill="#ababda"/>
<rect x="339.00" y="1122.00" width="57.70" height="18.80" fill="#8c84c4"/>
<rect x="396.70" y="1122.00" width="48.30" height="18.80" fill="#34348c"/>
<rect x="445.00" y="1122.00" width="96.60" height="18.80" fill="#1e1e6c"/>
<rect x="541.60" y="1122.00" width="30.70" height="18.80" fill="#121258"/>
<rect x="56.50" y="1122.00" width="3.70" height="18.80" fill="#000" fill-opacity="0.2"/>
<rect x="63.00" y="1122.00" width="1.00" height="18.80" fill="#000" fill-opacity="0.2"/>
<rect x="64.30" y="1122.00" width="1.70" height="18.80" fill="#000" fill-opacity="0.2"/>
<rect x="72.80" y="1122.00" width="3.10" height="18.80" fill="#000" fill-opacity="0.2"/>
<rect x="78.90" y="1122.00" width="1.90" height="18.80" fill="#000" fill-opacity="0.2"/>
<rect x="81.90" y="1122.00" width="3.10" height="18.80" fill="#000" fill-opacity="0.2"/>
<rect x="92.20" y="1122.00" width="2.60" height="18.80" fill="#000" fill-opacity="0.2"/>
<rect x="116.00" y="1122.00" width="1.90" height="18.80" fill="#000" fill-opacity="0.2"/>
<rect x="123.90" y="1122.00" width="0.90" height="18.80" fill="#000" fill-opacity="0.2"/>
<rect x="162.00" y="1122.00" width="0.90" height="18.80" fill="#000" fill-opacity="0.2"/>
<rect x="169.40" y="1122.00" width="1.90" height="18.80" fill="#000" fill-opacity="0.2"/>
<rect x="199.10" y="1122.00" width="1.00" height="18.80" fill="#000" fill-opacity="0.2"/>
<rect x="215.30" y="1122.00" width="1.60" height="18.80" fill="#000" fill-opacity="0.2"/>
<rect x="246.90" y="1122.00" width="1.60" height="18.80" fill="#000" fill-opacity="0.2"/>
<rect x="296.00" y="1122.00" width="2.00" height="18.80" fill="#000" fill-opacity="0.2"/>
<rect x="301.20" y="1122.00" width="0.80" height="18.80" fill="#000" fill-opacity="0.2"/>
<rect x="334.20" y="1122.00" width="1.60" height="18.80" fill="#000" fill-opacity="0.2"/>
<rect x="344.50" y="1122.00" width="1.90" height="18.80" fill="#000" fill-opacity="0.2"/>
<rect x="350.50" y="1122.00" width="2.90" height="18.80" fill="#000" fill-opacity="0.2"/>
<rect x="411.40" y="1122.00" width="2.50" height="18.80" fill="#000" fill-opacity="0.2"/>
<rect x="426.10" y="1122.00" width="1.70" height="18.80" fill="#000" fill-opacity="0.2"/>
<rect x="444.20" y="1122.00" width="2.50" height="18.80" fill="#000" fill-opacity="0.2"/>
<rect x="455.50" y="1122.00" width="2.50" height="18.80" fill="#000" fill-opacity="0.2"/>
<rect x="513.00" y="1122.00" width="2.50" height="18.80" fill="#000" fill-opacity="0.2"/>
<rect x="541.50" y="1122.00" width="1.40" height="18.80" fill="#000" fill-opacity="0.2"/>
<rect x="545.00" y="1122.00" width="1.60" height="18.80" fill="#000" fill-opacity="0.2"/>
<line x1="572.30" y1="1140.80" x2="596.00" y2="1140.80" stroke="#999" stroke-width="1.5"/>
<polygon points="57.0,1220.4 57.0,1180.8 57.3,1180.8 58.9,1184.7 60.8,1189.5 63.7,1193.4 66.6,1196.3 69.5,1199.2 74.4,1202.1 80.2,1204.1 82.1,1205.6 97.7,1207.0 105.4,1208.9 114.1,1210.9 142.2,1212.2 156.8,1214.2 175.0,1214.7 195.8,1216.8 221.7,1217.6 252.0,1218.6 280.0,1220.2 300.0,1221.2 330.0,1222.9 359.0,1224.1 385.7,1226.0 412.4,1227.0 437.8,1229.0 460.8,1230.2 480.0,1230.9 501.3,1231.8 536.2,1236.1 554.3,1238.5 565.0,1242.1 568.7,1248.1 571.1,1257.8 572.3,1266.2 573.6,1266.2 573.6,1220.4" fill="#888888"/>
<rect x="572.20" y="1266.00" width="1.40" height="15.80" fill="#c8c8c8"/>
<line x1="231.00" y1="1217.30" x2="240.80" y2="1217.30" stroke="#222" stroke-width="1.5"/>
<line x1="280.00" y1="1140.80" x2="280.00" y2="1288.00" stroke="#666" stroke-width="1.2" stroke-dasharray="6,2"/>
<text class="n" x="39.5" y="1159.9" font-size="14.3" text-anchor="start" fill="#111" textLength="6.8" lengthAdjust="spacingAndGlyphs">3</text>
<text class="n" x="39.5" y="1182.2" font-size="14.3" text-anchor="start" fill="#111" textLength="6.8" lengthAdjust="spacingAndGlyphs">2</text>
<text class="n" x="39.5" y="1204.0" font-size="14.3" text-anchor="start" fill="#111" textLength="6.8" lengthAdjust="spacingAndGlyphs">1</text>
<text class="n" x="39.5" y="1225.8" font-size="14.3" text-anchor="start" fill="#111" textLength="6.8" lengthAdjust="spacingAndGlyphs">0</text>
<text class="n" x="31.8" y="1247.6" font-size="14.3" text-anchor="start" fill="#111" textLength="14.4" lengthAdjust="spacingAndGlyphs">−1</text>
<text class="n" x="31.8" y="1269.9" font-size="14.3" text-anchor="start" fill="#111" textLength="14.4" lengthAdjust="spacingAndGlyphs">−2</text>
<text class="n" x="31.8" y="1291.7" font-size="14.3" text-anchor="start" fill="#111" textLength="14.4" lengthAdjust="spacingAndGlyphs">−3</text>
<text transform="translate(18.0,1211.2) rotate(-90)" x="-101.0" y="0" font-size="14" fill="#111" textLength="202.0" lengthAdjust="spacingAndGlyphs">Ranked list metric (Signal 2 Noise)</text>
<text x="87.3" y="1154.2" font-size="14" text-anchor="start" fill="#e4101a" textLength="162.0" lengthAdjust="spacingAndGlyphs" stroke="#e4101a" stroke-width="0.3">‘VILI’ (positively corrected)</text>
<text x="260.8" y="1219.6" font-size="14" text-anchor="start" fill="#111" textLength="105.2" lengthAdjust="spacingAndGlyphs" stroke="#111" stroke-width="0.25">Zero cross at 9366</text>
<text x="315.1" y="1281.6" font-size="14" text-anchor="start" fill="#1c1c70" textLength="185.0" lengthAdjust="spacingAndGlyphs" stroke="#1c1c70" stroke-width="0.45">‘Control’ (negatively correlated)</text>
<rect x="56.1" y="828" width="539.9" height="460" fill="none" stroke="#000" stroke-width="1.6"/>
<line x1="56.00" y1="1288.00" x2="56.00" y2="1293.30" stroke="#111" stroke-width="1.3"/>
<text class="n" x="51.5" y="1311.0" font-size="14.3" text-anchor="start" fill="#111" textLength="6.8" lengthAdjust="spacingAndGlyphs">0</text>
<line x1="116.40" y1="1288.00" x2="116.40" y2="1293.30" stroke="#111" stroke-width="1.3"/>
<text class="n" x="101.9" y="1311.0" font-size="14.3" text-anchor="start" fill="#111" textLength="30.4" lengthAdjust="spacingAndGlyphs">2,500</text>
<line x1="176.80" y1="1288.00" x2="176.80" y2="1293.30" stroke="#111" stroke-width="1.3"/>
<text class="n" x="161.3" y="1311.0" font-size="14.3" text-anchor="start" fill="#111" textLength="30.4" lengthAdjust="spacingAndGlyphs">5,000</text>
<line x1="236.20" y1="1288.00" x2="236.20" y2="1293.30" stroke="#111" stroke-width="1.3"/>
<text class="n" x="221.2" y="1311.0" font-size="14.3" text-anchor="start" fill="#111" textLength="30.4" lengthAdjust="spacingAndGlyphs">7,500</text>
<line x1="295.60" y1="1288.00" x2="295.60" y2="1293.30" stroke="#111" stroke-width="1.3"/>
<text class="n" x="275.4" y="1311.0" font-size="14.3" text-anchor="start" fill="#111" textLength="37.1" lengthAdjust="spacingAndGlyphs">10,000</text>
<line x1="355.20" y1="1288.00" x2="355.20" y2="1293.30" stroke="#111" stroke-width="1.3"/>
<text class="n" x="336.6" y="1311.0" font-size="14.3" text-anchor="start" fill="#111" textLength="37.1" lengthAdjust="spacingAndGlyphs">12,500</text>
<line x1="415.40" y1="1288.00" x2="415.40" y2="1293.30" stroke="#111" stroke-width="1.3"/>
<text class="n" x="396.8" y="1311.0" font-size="14.3" text-anchor="start" fill="#111" textLength="37.1" lengthAdjust="spacingAndGlyphs">15,000</text>
<line x1="475.30" y1="1288.00" x2="475.30" y2="1293.30" stroke="#111" stroke-width="1.3"/>
<text class="n" x="455.6" y="1311.0" font-size="14.3" text-anchor="start" fill="#111" textLength="37.1" lengthAdjust="spacingAndGlyphs">17,500</text>
<line x1="535.40" y1="1288.00" x2="535.40" y2="1293.30" stroke="#111" stroke-width="1.3"/>
<text class="n" x="515.4" y="1311.0" font-size="14.3" text-anchor="start" fill="#111" textLength="37.1" lengthAdjust="spacingAndGlyphs">20,000</text>
<line x1="596.00" y1="1288.00" x2="596.00" y2="1293.30" stroke="#111" stroke-width="1.3"/>
<text class="n" x="576.4" y="1311.0" font-size="14.3" text-anchor="start" fill="#111" textLength="37.1" lengthAdjust="spacingAndGlyphs">22,500</text>
<text x="252.7" y="1335.7" font-size="14" text-anchor="start" fill="#111" textLength="137.2" lengthAdjust="spacingAndGlyphs">Rank in ordered dataset</text>
<line x1="57.80" y1="1355.00" x2="83.40" y2="1355.00" stroke="#57b030" stroke-width="1.3"/>
<text x="94.0" y="1359.8" font-size="14" text-anchor="start" fill="#111" textLength="108.8" lengthAdjust="spacingAndGlyphs">Enrichment profile</text>
<line x1="57.80" y1="1374.60" x2="83.40" y2="1374.60" stroke="#222" stroke-width="1.3"/>
<text x="94.0" y="1379.4" font-size="14" text-anchor="start" fill="#111" textLength="22.0" lengthAdjust="spacingAndGlyphs">Hits</text>
<line x1="57.80" y1="1394.80" x2="83.40" y2="1394.80" stroke="#a0a0a0" stroke-width="1.3"/>
<text x="94.0" y="1399.6" font-size="14" text-anchor="start" fill="#111" textLength="129.0" lengthAdjust="spacingAndGlyphs">Ranking metric scores</text>
<text x="306.5" y="1429.6" font-size="14.5" text-anchor="middle" fill="#111" letter-spacing="1.2">(d)</text>
<text x="277.9" y="1458.8" font-size="14" text-anchor="start" fill="#111" textLength="98.4" lengthAdjust="spacingAndGlyphs">Enrichment plot:</text>
<text x="213.0" y="1475.3" font-size="14" text-anchor="start" fill="#111" textLength="227.3" lengthAdjust="spacingAndGlyphs">KEGG_JAK_STAT_signaling_pathway</text>
<line x1="53.20" y1="1521.40" x2="599.20" y2="1521.40" stroke="#d2d2d2" stroke-width="1.8" stroke-dasharray="18,2,3,2"/>
<line x1="53.20" y1="1565.10" x2="599.20" y2="1565.10" stroke="#b4b4b4" stroke-width="0.9" stroke-dasharray="3,2.5"/>
<line x1="53.20" y1="1608.60" x2="599.20" y2="1608.60" stroke="#b4b4b4" stroke-width="0.9" stroke-dasharray="3,2.5"/>
<line x1="53.20" y1="1652.00" x2="599.20" y2="1652.00" stroke="#b4b4b4" stroke-width="0.9" stroke-dasharray="3,2.5"/>
<line x1="114.10" y1="1492.00" x2="114.10" y2="1672.00" stroke="#b4b4b4" stroke-width="0.9" stroke-dasharray="3,2.5"/>
<line x1="175.40" y1="1492.00" x2="175.40" y2="1672.00" stroke="#b4b4b4" stroke-width="0.9" stroke-dasharray="3,2.5"/>
<line x1="235.70" y1="1492.00" x2="235.70" y2="1672.00" stroke="#b4b4b4" stroke-width="0.9" stroke-dasharray="3,2.5"/>
<line x1="295.00" y1="1492.00" x2="295.00" y2="1672.00" stroke="#b4b4b4" stroke-width="0.9" stroke-dasharray="3,2.5"/>
<line x1="356.30" y1="1492.00" x2="356.30" y2="1672.00" stroke="#b4b4b4" stroke-width="0.9" stroke-dasharray="3,2.5"/>
<line x1="416.00" y1="1492.00" x2="416.00" y2="1672.00" stroke="#b4b4b4" stroke-width="0.9" stroke-dasharray="3,2.5"/>
<line x1="475.40" y1="1492.00" x2="475.40" y2="1672.00" stroke="#b4b4b4" stroke-width="0.9" stroke-dasharray="3,2.5"/>
<line x1="538.00" y1="1492.00" x2="538.00" y2="1672.00" stroke="#b4b4b4" stroke-width="0.9" stroke-dasharray="3,2.5"/>
<line x1="48.00" y1="1521.60" x2="53.20" y2="1521.60" stroke="#111" stroke-width="1.3"/>
<text class="n" x="25.1" y="1526.2" font-size="14.3" text-anchor="start" fill="#111" textLength="16.9" lengthAdjust="spacingAndGlyphs">0.4</text>
<line x1="48.00" y1="1565.00" x2="53.20" y2="1565.00" stroke="#111" stroke-width="1.3"/>
<text class="n" x="25.1" y="1569.6" font-size="14.3" text-anchor="start" fill="#111" textLength="16.9" lengthAdjust="spacingAndGlyphs">0.3</text>
<line x1="48.00" y1="1608.00" x2="53.20" y2="1608.00" stroke="#111" stroke-width="1.3"/>
<text class="n" x="25.1" y="1612.6" font-size="14.3" text-anchor="start" fill="#111" textLength="16.9" lengthAdjust="spacingAndGlyphs">0.2</text>
<line x1="48.00" y1="1650.90" x2="53.20" y2="1650.90" stroke="#111" stroke-width="1.3"/>
<text class="n" x="25.1" y="1655.5" font-size="14.3" text-anchor="start" fill="#111" textLength="16.9" lengthAdjust="spacingAndGlyphs">0.1</text>
<text transform="translate(15.0,1600.8) rotate(-90)" x="-65.2" y="0" font-size="14" fill="#111" textLength="130.5" lengthAdjust="spacingAndGlyphs">Enrichment score (ES)</text>
<polyline points="53.8,1670.0 54.0,1652.0 54.6,1640.0" fill="none" stroke="#27841b" stroke-width="2.2" stroke-linejoin="round"/>
<polyline points="54.6,1640.0 56.0,1638.0 56.2,1615.0 57.6,1605.0 58.8,1598.0 60.1,1593.7 61.6,1588.2 63.3,1587.3 66.6,1573.0 68.1,1572.7 69.8,1567.9 72.0,1563.7 73.0,1562.7 75.0,1552.4 75.8,1549.4 77.5,1543.3 78.4,1541.7 82.3,1536.5 83.6,1531.4 88.8,1536.5 91.4,1526.2 93.9,1515.8 97.8,1508.1 104.3,1505.5 110.7,1505.5 115.9,1509.4 121.1,1508.1 125.0,1510.7 130.1,1513.3 135.3,1506.8 141.8,1508.1 148.2,1502.4 154.7,1505.0 161.1,1510.7 168.9,1512.7 176.6,1514.6 181.8,1519.7 187.0,1522.3 194.7,1523.6 202.5,1527.5 211.6,1533.0 223.3,1536.8 234.9,1544.6 246.5,1554.3 258.2,1562.0 269.8,1569.8 281.4,1579.5 293.1,1589.2 304.7,1598.9 316.3,1606.6 328.0,1616.3 339.6,1624.1 347.3,1624.9 355.1,1629.9 366.7,1639.6 378.4,1647.3 390.0,1655.1 401.6,1660.9 413.3,1666.0 420.0,1670.0" fill="none" stroke="#27841b" stroke-width="5.0" stroke-linejoin="round" stroke-linecap="square"/>
<path d="M53.2,1672 V1492 H599.2 V1672" fill="none" stroke="#000" stroke-width="1.6"/>
</svg>
</body></html>
